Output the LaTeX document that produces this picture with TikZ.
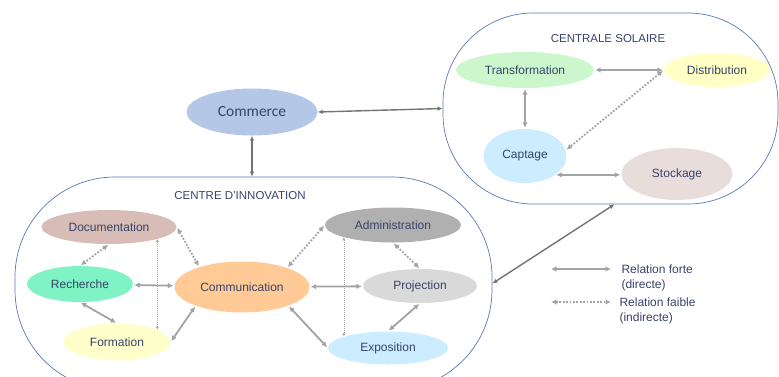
\documentclass[tikz,border=0pt]{standalone}
\usepackage{fontspec}
\setmainfont{Liberation Sans}
\newfontfamily\calibri{Carlito}
\usetikzlibrary{shapes.geometric, arrows.meta}
\definecolor{inktext}{HTML}{37436A}
\definecolor{frameblue}{HTML}{5B78B2}
\definecolor{lightarrow}{HTML}{A3A3A3}
\definecolor{darkarrow}{HTML}{737373}
\definecolor{commercefill}{HTML}{B4C7E7}
\definecolor{docfill}{HTML}{D7BDB6}
\definecolor{rechfill}{HTML}{80F3C4}
\definecolor{formfill}{HTML}{FFFFCC}
\definecolor{commfill}{HTML}{FFCA96}
\definecolor{adminfill}{HTML}{B0B0B0}
\definecolor{projfill}{HTML}{D9D9D9}
\definecolor{skyfill}{HTML}{CCECFF}
\definecolor{transfill}{HTML}{CCF7CC}
\definecolor{distrfill}{HTML}{FFFFC6}
\definecolor{stockfill}{HTML}{E9DDDB}

\begin{document}
\begin{tikzpicture}[x=1pt, y=-1pt,
  bubble/.style={ellipse, inner sep=0pt, text=inktext, font=\fontsize{12}{14}\selectfont},
  frame/.style={draw=frameblue, line width=0.7pt},
  strong/.style={{Latex[length=5.5pt,width=5.5pt]}-{Latex[length=5.5pt,width=5.5pt]}, lightarrow, line width=1.8pt, shorten <=1pt, shorten >=1pt},
  weak/.style={strong, dash pattern=on 1.8pt off 1.6pt},
  faint/.style={{Latex[length=3pt,width=3pt]}-{Latex[length=3pt,width=3pt]}, lightarrow, line width=0.6pt, dash pattern=on 1pt off 1pt},
  link/.style={{Latex[length=5pt,width=4.5pt]}-{Latex[length=5pt,width=4.5pt]}, darkarrow, line width=1.4pt}]
  \useasboundingbox (0,0) rectangle (779,376);
  \clip (0,0) rectangle (779,376);
  % the two sites
  \node[frame, rounded corners=100pt, minimum width=477pt, minimum height=213pt] (centre) at (253.5,283.5) {};
  \node[frame, rounded corners=90pt, minimum width=335pt, minimum height=191pt] (solar) at (610.5,108.5) {};
  \node[text=inktext, font=\fontsize{11.5}{14}\selectfont] (centretitle) at (240,196) {CENTRE D'INNOVATION};
  \node[text=inktext, font=\fontsize{11.5}{14}\selectfont] (solartitle) at (608,39) {CENTRALE SOLAIRE};
  % commerce
  \node[bubble, fill=commercefill, minimum width=131pt, minimum height=47pt, font=\calibri\fontsize{15.5}{18}\selectfont] (commerce) at (252,112) {Commerce};
  \draw[link] (commerce.east) -- (solar.west);
  \draw[link] (commerce.south) -- (commerce.south |- centre.north);
  \draw[link] (centre.east) -- ([xshift=4pt]solar.south);
  % centre d'innovation
  \node[bubble, fill=docfill, minimum width=135pt, minimum height=34pt] (doc) at (109,227) {Documentation};
  \node[bubble, fill=rechfill, minimum width=106pt, minimum height=36pt] (rech) at (80,284) {Recherche};
  \node[bubble, fill=formfill, minimum width=107pt, minimum height=37pt] (form) at (117,342) {Formation};
  \node[bubble, fill=commfill, minimum width=135pt, minimum height=51pt] (comm) at (242,287) {Communication};
  \node[bubble, fill=adminfill, minimum width=136pt, minimum height=35pt] (admin) at (393,225) {Administration};
  \node[bubble, fill=projfill, minimum width=114pt, minimum height=34pt] (proj) at (420,286) {Projection};
  \node[bubble, fill=skyfill, minimum width=120pt, minimum height=33pt] (expo) at (388,348) {Exposition};
  \draw[weak] (doc.south) -- (rech.north);
  \draw[weak] (doc.east) -- (comm.155);
  \draw[faint] (doc.-14) -- (doc.-14 |- form.17);
  \draw[strong] (rech) -- (comm);
  \draw[strong] (rech.south) -- (form.north);
  \draw[strong] (form.east) -- (comm.202);
  \draw[weak] (admin.west) -- (comm.23);
  \draw[weak] (admin.south) -- (proj.north);
  \draw[faint] (admin.194) -- (admin.194 |- expo.165);
  \draw[strong] (comm) -- (proj);
  \draw[strong] (comm.-22) -- (expo.west);
  \draw[strong] (proj.south) -- (expo.north);
  % centrale solaire
  \node[bubble, fill=transfill, minimum width=138pt, minimum height=36pt] (trans) at (525,70) {Transformation};
  \node[bubble, fill=distrfill, minimum width=106pt, minimum height=34pt] (distr) at (717,70) {Distribution};
  \node[bubble, fill=skyfill, minimum width=83pt, minimum height=54pt] (capt) at (525,156) {Captage};
  \node[bubble, fill=stockfill, minimum width=111pt, minimum height=52pt] (stock) at (677,174) {Stockage};
  \draw[strong] (trans) -- (distr);
  \draw[strong] (trans.south) -- (capt.north);
  \draw[weak] (distr.west) -- (capt.8);
  \draw[strong] (capt.-32) -- (capt.-32 -| stock.west);
  % legend
  \coordinate (strongA) at (550,269); \coordinate (strongB) at (612,269);
  \coordinate (weakA) at (550,302); \coordinate (weakB) at (612,302);
  \draw[strong] (strongA) -- (strongB);
  \draw[weak] (weakA) -- (weakB);
  \node[anchor=west, align=left, text=inktext, font=\fontsize{12}{15}\selectfont] (strongtext) at (618,277.5) {Relation forte\\(directe)};
  \node[anchor=west, align=left, text=inktext, font=\fontsize{12}{15}\selectfont] (weaktext) at (616,311) {Relation faible\\(indirecte)};
\end{tikzpicture}
\end{document}
